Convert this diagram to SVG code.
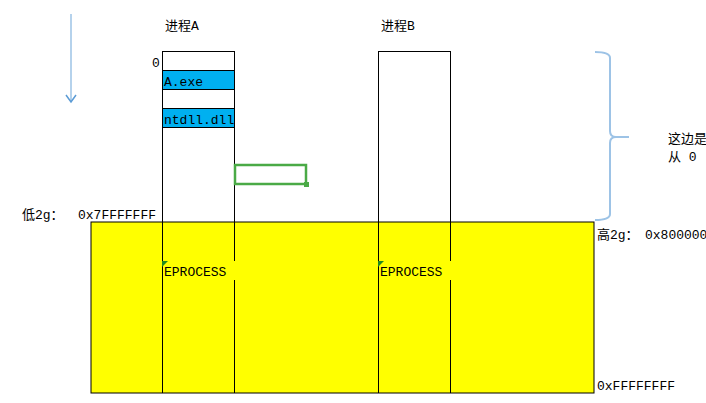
<svg xmlns="http://www.w3.org/2000/svg" width="706" height="403" viewBox="0 0 706 403">
<defs>
<style>
text{font-family:"Liberation Mono","Noto Sans CJK SC",monospace;font-size:13px;fill:#000}
.ln{stroke:#000;stroke-width:1;fill:none}
.blue{fill:#00b0f0;stroke:#000;stroke-width:1}
.lb{stroke:#9dc3e6;stroke-width:2;fill:none}
</style>
<marker id="ah" markerWidth="12" markerHeight="12" refX="8" refY="6" orient="auto" markerUnits="userSpaceOnUse">
<path d="M1,1 L8,6 L1,11" fill="none" stroke="#5b9bd5" stroke-width="1.5"/>
</marker>
</defs>
<rect width="706" height="403" fill="#fff"/>
<g id="memory">
<rect x="91" y="222" width="503" height="171" fill="#ffff00" stroke="#000"/>
</g>
<g id="procA">
<text x="165" y="30">进程A</text>
<text x="152" y="67">0</text>
<line class="ln" x1="162" y1="51.5" x2="234" y2="51.5"/>
<line class="ln" x1="162.5" y1="51" x2="162.5" y2="393"/>
<line class="ln" x1="234.5" y1="51" x2="234.5" y2="393"/>
<rect class="blue" x="162.5" y="70.5" width="72" height="19"/>
<text x="164" y="86">A.exe</text>
<rect class="blue" x="162.5" y="108.5" width="72" height="19"/>
<text x="164" y="124">ntdll.dll</text>
<rect x="163" y="261" width="77" height="19" fill="#ffff00"/>
<path d="M162,261 L168,261 L162,267 Z" fill="#1f8a1f"/>
<text x="164" y="276">EPROCESS</text>
</g>
<g id="procB">
<text x="381" y="30">进程B</text>
<line class="ln" x1="378" y1="51.5" x2="450" y2="51.5"/>
<line class="ln" x1="378.5" y1="51" x2="378.5" y2="393"/>
<line class="ln" x1="450.5" y1="51" x2="450.5" y2="393"/>
<rect x="379" y="261" width="77" height="19" fill="#ffff00"/>
<path d="M378,261 L384,261 L378,267 Z" fill="#1f8a1f"/>
<text x="380" y="276">EPROCESS</text>
</g>
<g id="selection">
<rect x="235" y="165" width="71" height="19" fill="none" stroke="#4aaa46" stroke-width="2.5"/>
<rect x="304" y="182" width="5" height="5" fill="#4aaa46"/>
</g>
<g id="labels">
<text x="22" y="219">低2g：</text>
<text x="78" y="219">0x7FFFFFFF</text>
<text x="597" y="239">高2g：</text>
<text x="645" y="239">0x80000000</text>
<text x="597" y="390">0xFFFFFFFF</text>
<text x="668" y="143">这边是</text>
<text x="668" y="161">从 0</text>
</g>
<g id="connectors">
<line x1="71" y1="14" x2="71" y2="102" stroke="#9dc3e6" stroke-width="1.5" marker-end="url(#ah)"/>
<path class="lb" d="M595,52 Q610,52 610,58 L610,131 Q610,137 616,137 L629,137 M616,137 Q610,137 610,143 L610,214 Q610,220 595,220"/>
</g>
</svg>
